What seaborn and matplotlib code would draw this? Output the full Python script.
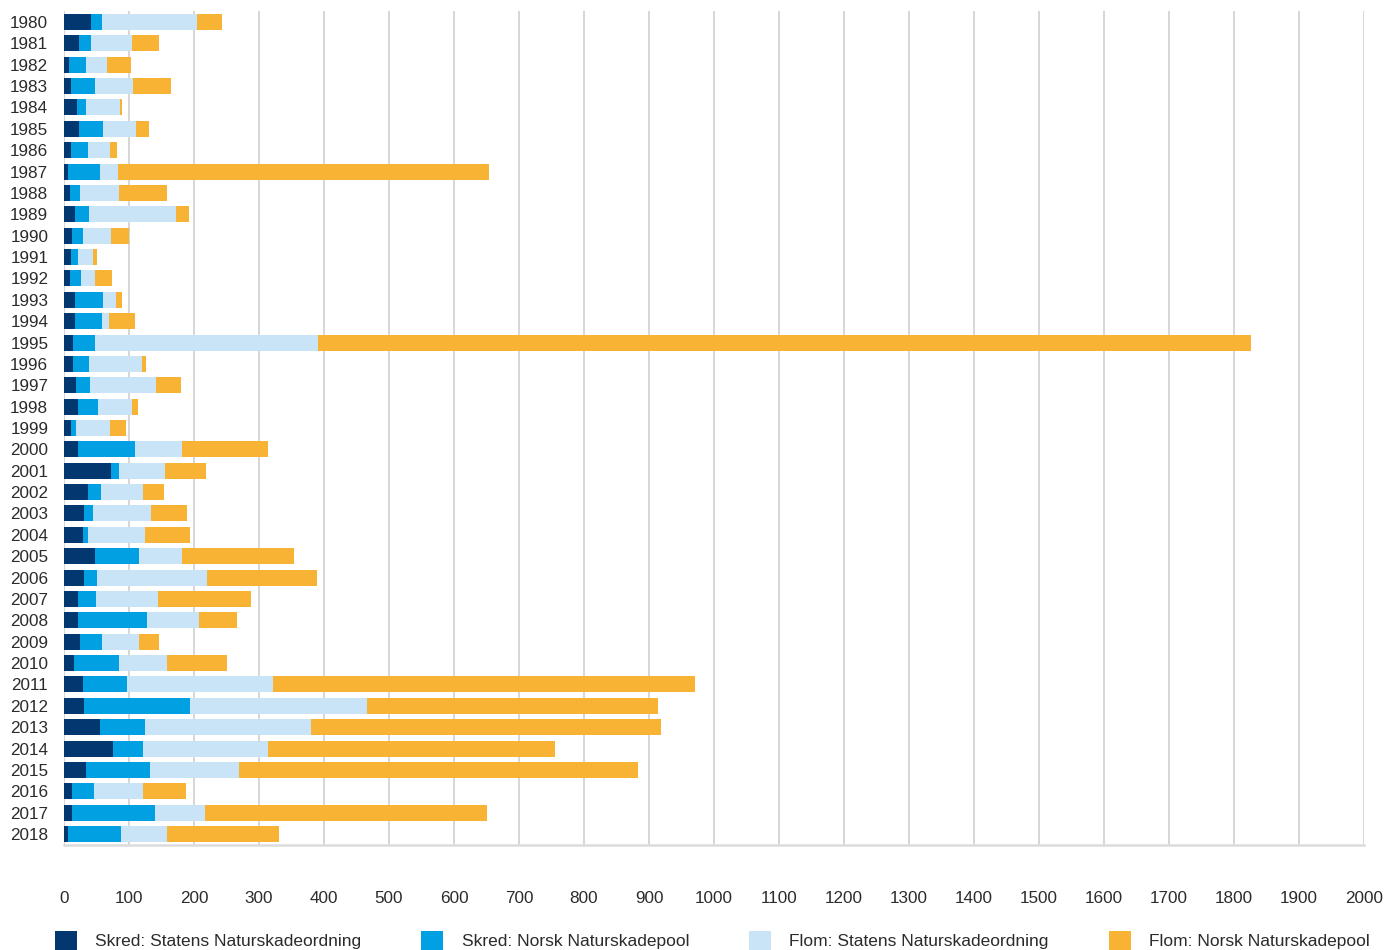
import numpy as np
import pandas as pd
import matplotlib
matplotlib.use("Agg")
import matplotlib.pyplot as plt
import seaborn as sns
from matplotlib.patches import Patch

years = [str(y) for y in range(1980, 2019)]

skred_statens = [41.6, 23.4, 8.1, 11.2, 20.3, 23.4, 11.2, 6.6, 9.6, 17.3,
                 12.7, 11.2, 9.6, 17.3, 17.3, 14.2, 14.2, 18.8, 21.8, 11.2,
                 21.8, 72.1, 37.1, 31.0, 29.4, 47.7, 31.0, 21.8, 21.8, 24.9,
                 15.7, 29.4, 31.0, 55.3, 75.1, 34.0, 12.7, 12.7, 6.6]
skred_norsk = [16.8, 18.3, 25.9, 36.5, 13.7, 36.5, 25.9, 48.7, 15.3, 21.3,
               16.7, 10.6, 16.8, 42.6, 41.1, 33.5, 24.4, 21.3, 30.5, 7.6,
               86.8, 12.2, 19.8, 13.7, 7.7, 67.0, 19.8, 27.4, 106.6, 33.5,
               68.6, 67.0, 162.9, 68.6, 45.7, 99.0, 33.5, 127.9, 80.7]
flom_statens = [146.2, 62.4, 32.0, 57.9, 51.8, 50.3, 33.5, 27.4, 59.4, 134.0,
                42.7, 22.9, 21.3, 19.8, 10.6, 342.7, 80.7, 102.0, 51.8, 51.8,
                73.1, 71.5, 65.4, 89.8, 86.8, 67.0, 169.0, 96.0, 79.2, 56.3,
                74.6, 225.4, 271.5, 255.8, 193.4, 135.5, 76.1, 76.2, 71.6]
flom_norsk = [38.0, 42.6, 36.5, 59.4, 3.0, 19.8, 10.6, 571.7, 74.6, 19.8,
              27.4, 6.1, 25.9, 9.1, 39.6, 1436.0, 6.1, 38.1, 9.1, 24.3,
              132.5, 62.5, 32.0, 54.8, 70.0, 172.1, 169.0, 143.1, 57.9, 32.0,
              91.4, 649.0, 448.6, 538.9, 441.6, 614.8, 65.5, 434.5, 172.1]

series_names = ["Skred: Statens Naturskadeordning", "Skred: Norsk Naturskadepool",
                "Flom: Statens Naturskadeordning", "Flom: Norsk Naturskadepool"]
colors = ["#03376f", "#00a0e2", "#c8e4f6", "#f8b234"]

xticks = list(range(0, 2001, 100))

sns.set_theme(style="white")
plt.rcParams['font.family'] = ['Liberation Sans', 'DejaVu Sans']
text_color = "#2b2b2b"

df = pd.DataFrame({"year": years,
                   "s1": skred_statens, "s2": skred_norsk,
                   "s3": flom_statens, "s4": flom_norsk})
df["c1"] = df["s1"]
df["c2"] = df["c1"] + df["s2"]
df["c3"] = df["c2"] + df["s3"]
df["c4"] = df["c3"] + df["s4"]

fig = plt.figure(figsize=(13.86, 9.5), dpi=100)
ax = fig.add_axes([64 / 1386, 1 - 845 / 950, 1300 / 1386, 834 / 950])

for col, c in zip(["c4", "c3", "c2", "c1"], colors[::-1]):
    sns.barplot(data=df, x=col, y="year", orient="h", color=c, saturation=1,
                width=0.75, errorbar=None, ax=ax, linewidth=0, order=years)

ax.set_xlim(0, 2000)
ax.set_ylim(38.515, -0.515)
ax.set_xticks(xticks)
ax.set_xticklabels([str(t) for t in xticks])
ax.set_xlabel("")
ax.set_ylabel("")
ax.set_axisbelow(True)
ax.grid(axis="x", color="#cccccc", linewidth=1.1)
ax.grid(axis="y", visible=False)
for s in ["top", "right", "left"]:
    ax.spines[s].set_visible(False)
ax.spines["bottom"].set_color("#dcdcdc")
ax.spines["bottom"].set_linewidth(1.8)
ax.tick_params(axis="x", length=0, pad=33, labelsize=12.3, labelcolor=text_color)
ax.tick_params(axis="y", length=0, pad=11.3, labelsize=12.3, labelcolor=text_color)

handles = [Patch(facecolor=c, edgecolor="none", label=n) for c, n in zip(colors, series_names)]
fig.legend(handles=handles, loc="upper left", bbox_to_anchor=(55 / 1386, 1 - 931 / 950),
           ncol=4, frameon=False, fontsize=12.5, handlelength=1.27, handleheight=1.27,
           handletextpad=1.05, columnspacing=3.45, borderpad=0, borderaxespad=0,
           labelcolor=text_color)

fig.savefig("out.png", dpi=100)
